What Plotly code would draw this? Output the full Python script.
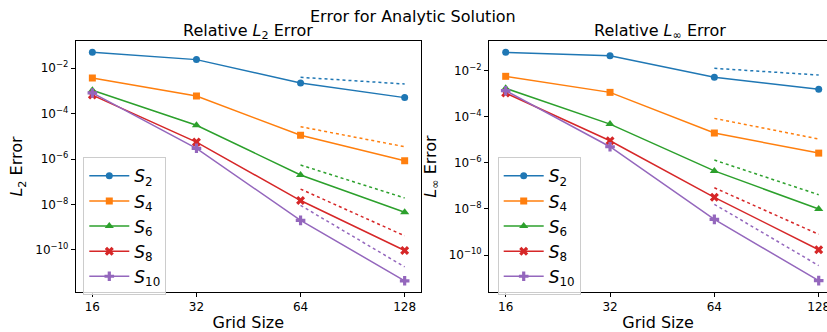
import plotly.graph_objects as go
import math

grid = [16, 32, 64, 128]
ref_grid = [64, 128]
series_names = ["<i>S</i><sub>2</sub>", "<i>S</i><sub>4</sub>", "<i>S</i><sub>6</sub>",
                "<i>S</i><sub>8</sub>", "<i>S</i><sub>10</sub>"]

# Relative L2 error
l2_s2 = [5.1e-2, 2.4e-2, 2.25e-3, 5.1e-4]
l2_s4 = [3.7e-3, 6.0e-4, 1.12e-5, 8.5e-7]
l2_s6 = [1.07e-3, 3.1e-5, 2.0e-7, 4.6e-9]
l2_s8 = [6.6e-4, 5.6e-6, 1.5e-8, 9.5e-11]
l2_s10 = [8.2e-4, 3.0e-6, 2.0e-9, 4.4e-12]

# Reference (dotted) lines, L2
l2_ref_s2 = [4.0e-3, 2.03e-3]
l2_ref_s4 = [2.67e-5, 3.52e-6]
l2_ref_s6 = [5.5e-7, 1.95e-8]
l2_ref_s8 = [4.8e-8, 4.2e-10]
l2_ref_s10 = [9.2e-9, 1.8e-11]

# Relative Linf error
li_s2 = [6.0e-2, 4.3e-2, 5.0e-3, 1.5e-3]
li_s4 = [5.5e-3, 1.11e-3, 1.93e-5, 2.6e-6]
li_s6 = [1.66e-3, 4.7e-5, 4.4e-7, 9.8e-9]
li_s8 = [1.04e-3, 8.9e-6, 3.16e-8, 1.7e-10]
li_s10 = [1.31e-3, 4.9e-6, 3.5e-9, 7.8e-12]

li_ref_s2 = [1.22e-2, 6.25e-3]
li_ref_s4 = [8.3e-5, 1.06e-5]
li_ref_s6 = [1.3e-6, 4.1e-8]
li_ref_s8 = [8.2e-8, 7.9e-10]
li_ref_s10 = [1.58e-8, 3.5e-11]

x_tickvals = [16, 32, 64, 128]
x_ticktext = ["16", "32", "64", "128"]
y_tickvals = [1e-2, 1e-4, 1e-6, 1e-8, 1e-10]
y_ticktext = ["10<sup>\u22122</sup>", "10<sup>\u22124</sup>", "10<sup>\u22126</sup>",
              "10<sup>\u22128</sup>", "10<sup>\u221210</sup>"]

colors = ["#1f77b4", "#ff7f0e", "#2ca02c", "#d62728", "#9467bd"]
symbols = ["circle", "square", "triangle-up", "x", "cross"]
msizes = [7, 7, 8, 8, 8]

W, H = 827, 332
FONT = "DejaVu Sans"

fig = go.Figure()

l2_all = [l2_s2, l2_s4, l2_s6, l2_s8, l2_s10]
l2_refs = [l2_ref_s2, l2_ref_s4, l2_ref_s6, l2_ref_s8, l2_ref_s10]
li_all = [li_s2, li_s4, li_s6, li_s8, li_s10]
li_refs = [li_ref_s2, li_ref_s4, li_ref_s6, li_ref_s8, li_ref_s10]

for (data, refs, xa, ya, leg) in [(l2_all, l2_refs, "x", "y", "legend"),
                                  (li_all, li_refs, "x2", "y2", "legend2")]:
    for i in range(5):
        fig.add_trace(go.Scatter(
            x=grid, y=data[i], mode="lines+markers", name=series_names[i],
            line=dict(color=colors[i], width=1.5),
            marker=dict(symbol=symbols[i], size=msizes[i], color=colors[i],
                        line=dict(width=0)),
            xaxis=xa, yaxis=ya, legend=leg))
    for i in range(5):
        fig.add_trace(go.Scatter(
            x=ref_grid, y=refs[i], mode="lines", showlegend=False,
            line=dict(color=colors[i], width=1.5, dash="dot"),
            xaxis=xa, yaxis=ya))

L2 = math.log10(2)
top = 1 - 41 / H
bot = 1 - 292 / H

axis_common = dict(type="log", showgrid=False, zeroline=False, showline=True,
                   linecolor="black", linewidth=1, ticks="outside", ticklen=4,
                   tickcolor="black", tickwidth=1,
                   tickfont=dict(family=FONT, size=12, color="black"),
                   automargin=False, ticklabeloverflow="allow")

fig.update_layout(
    width=W, height=H, autosize=False,
    margin=dict(l=0, r=0, t=0, b=0),
    paper_bgcolor="white", plot_bgcolor="white",
    font=dict(family=FONT, color="black"),
    xaxis=dict(axis_common, domain=[75.7 / W, 421 / W],
               range=[3.84 * L2, 7.157 * L2], mirror=True,
               tickvals=x_tickvals, ticktext=x_ticktext,
               title=dict(text="Grid Size", font=dict(family=FONT, size=16), standoff=4),
               anchor="y"),
    yaxis=dict(axis_common, domain=[bot, top], range=[-11.85, -0.80], mirror=True,
               tickvals=y_tickvals, ticktext=y_ticktext,
               title=dict(text="<i>L</i><sub>2</sub> Error", font=dict(family=FONT, size=16), standoff=8),
               anchor="x"),
    xaxis2=dict(axis_common, domain=[489 / W, 1.0],
                range=[3.84 * L2, 7.0796 * L2], mirror=True,
                tickvals=x_tickvals, ticktext=x_ticktext,
                title=dict(text="Grid Size", font=dict(family=FONT, size=16), standoff=4),
                anchor="y2"),
    yaxis2=dict(axis_common, domain=[bot, top], range=[-11.6, -0.73], mirror=False,
                tickvals=y_tickvals, ticktext=y_ticktext,
                title=dict(text="<i>L</i><sub>\u221e</sub> Error", font=dict(family=FONT, size=16), standoff=8),
                anchor="x2"),
    legend=dict(x=83.3 / W, y=1 - 157.3 / H, xanchor="left", yanchor="top",
                bgcolor="rgba(255,255,255,0.8)", bordercolor="#cccccc", borderwidth=1,
                font=dict(family=FONT, size=17), tracegroupgap=0, itemwidth=40),
    legend2=dict(x=497.7 / W, y=1 - 157.3 / H, xanchor="left", yanchor="top",
                 bgcolor="rgba(255,255,255,0.8)", bordercolor="#cccccc", borderwidth=1,
                 font=dict(family=FONT, size=17), tracegroupgap=0, itemwidth=40),
    annotations=[
        dict(text="Error for Analytic Solution", x=413 / W, y=1 - 16 / H, xref="paper", yref="paper",
             showarrow=False, font=dict(family=FONT, size=16), xanchor="center", yanchor="middle"),
        dict(text="Relative <i>L</i><sub>2</sub> Error", x=248 / W, y=1 - 31 / H, xref="paper", yref="paper",
             showarrow=False, font=dict(family=FONT, size=16), xanchor="center", yanchor="middle"),
        dict(text="Relative <i>L</i><sub>\u221e</sub> Error", x=660 / W, y=1 - 31 / H, xref="paper", yref="paper",
             showarrow=False, font=dict(family=FONT, size=16), xanchor="center", yanchor="middle"),
    ],
)

fig.write_html("out.html", config={"displayModeBar": False},
               post_script="document.body.style.margin='0';document.body.style.overflow='hidden';")
